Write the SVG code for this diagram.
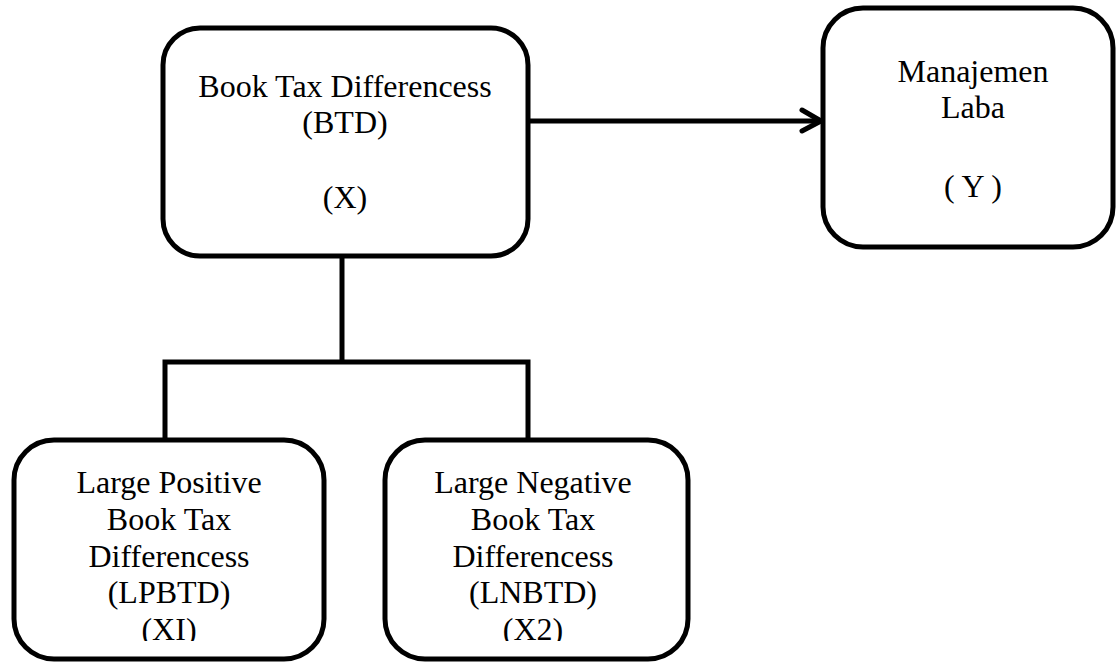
<svg xmlns="http://www.w3.org/2000/svg" width="1116" height="662" viewBox="0 0 1116 662">
<style>
.box{fill:#fff;stroke:#000;stroke-width:5}
.ln{fill:none;stroke:#000;stroke-width:5;stroke-linecap:butt;stroke-linejoin:miter}
.ah{fill:none;stroke:#000;stroke-width:5;stroke-linecap:round;stroke-linejoin:round}
.t{font-size:32px;fill:#000;text-anchor:middle}
</style>
<defs>
<clipPath id="clipB"><rect x="0" y="0" width="1116" height="641"/></clipPath>
</defs>
<rect width="1116" height="662" fill="#fff"/>
<g id="connectors">
<polyline class="ln" points="342,256 342,362"/>
<polyline class="ln" points="165,440 165,362 528,362 528,440"/>
<line class="ln" x1="528" y1="121" x2="820" y2="121"/>
<polyline class="ah" points="802,110 821,121 802,131"/>
</g>
<g font-family="'Liberation Serif', 'DejaVu Serif', serif">
<g id="node-btd">
<rect class="box" x="163" y="28" width="365" height="228" rx="37"/>
<text class="t" x="345" y="97">Book Tax Differencess</text>
<text class="t" x="345" y="133">(BTD)</text>
<text class="t" x="345" y="208">(X)</text>
</g>
<g id="node-ml">
<rect class="box" x="823" y="8" width="290" height="239" rx="40"/>
<text class="t" x="973" y="82">Manajemen</text>
<text class="t" x="973" y="118">Laba</text>
<text class="t" x="973" y="197">( Y )</text>
</g>
<g id="node-lpbtd">
<rect class="box" x="14" y="440" width="310" height="219" rx="40"/>
<g clip-path="url(#clipB)">
<text class="t" x="169" y="493">Large Positive</text>
<text class="t" x="169" y="530">Book Tax</text>
<text class="t" x="169" y="567">Differencess</text>
<text class="t" x="169" y="603">(LPBTD)</text>
<text class="t" x="169" y="640">(XI)</text>
</g>
</g>
<g id="node-lnbtd">
<rect class="box" x="385" y="440" width="303" height="219" rx="40"/>
<g clip-path="url(#clipB)">
<text class="t" x="533" y="493">Large Negative</text>
<text class="t" x="533" y="530">Book Tax</text>
<text class="t" x="533" y="567">Differencess</text>
<text class="t" x="533" y="603">(LNBTD)</text>
<text class="t" x="533" y="640">(X2)</text>
</g>
</g>
</g>
</svg>
